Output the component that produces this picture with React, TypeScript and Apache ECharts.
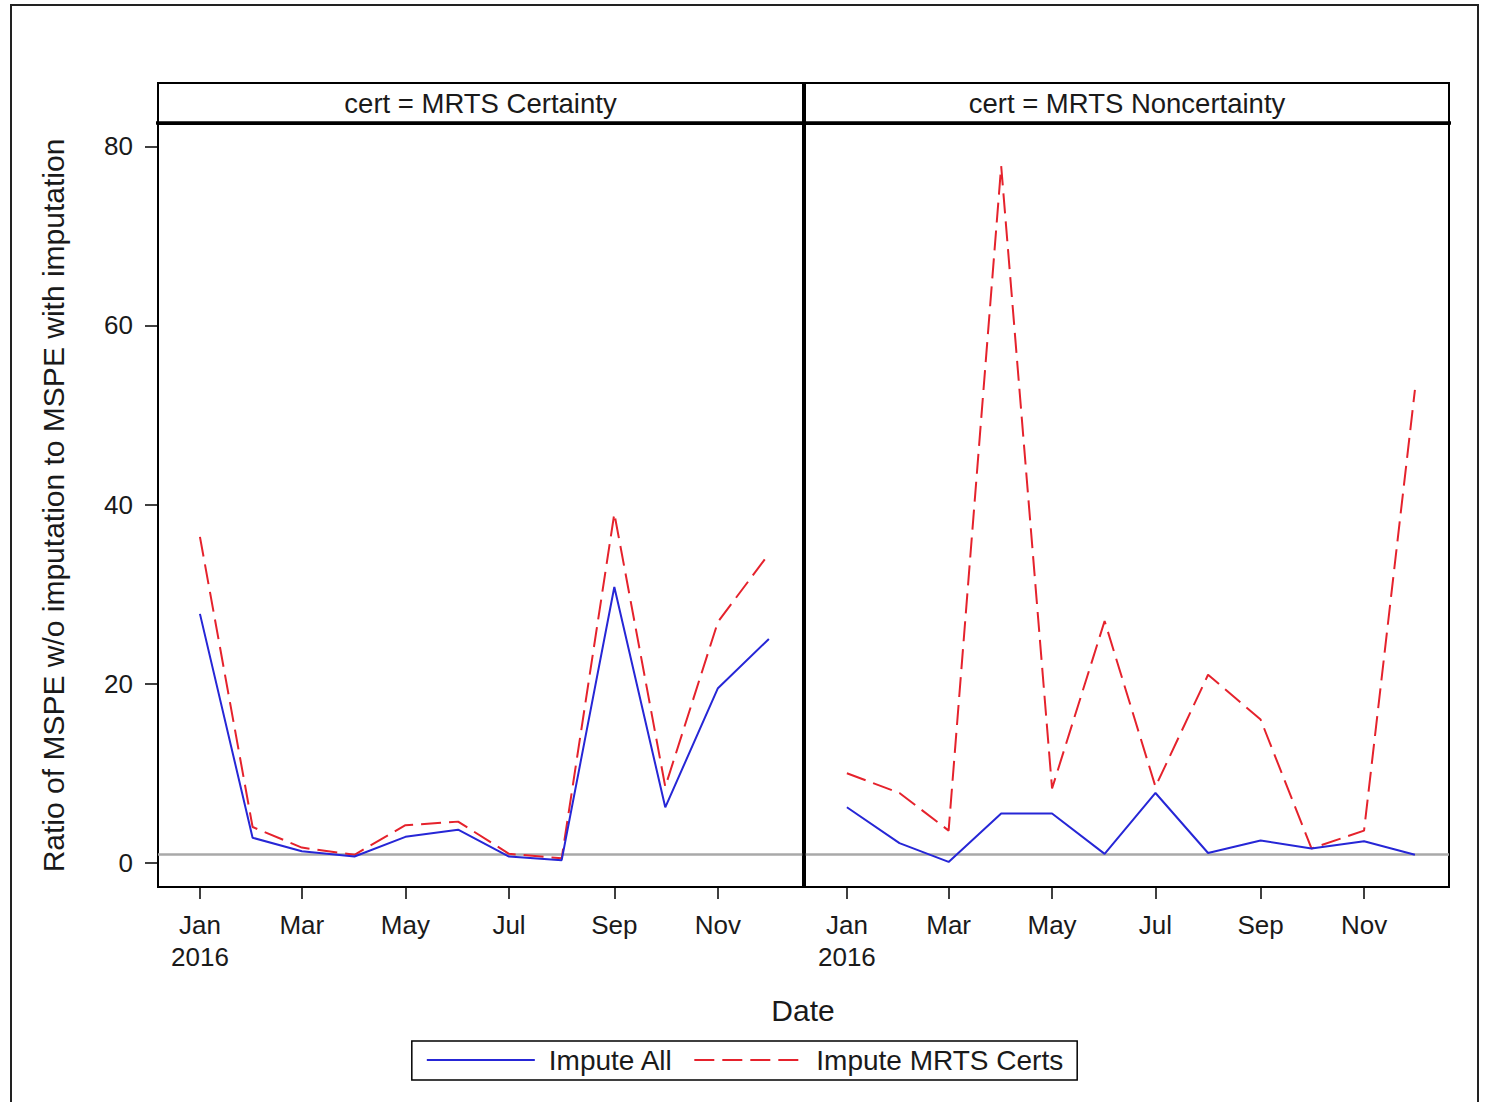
import React, { useEffect, useRef } from "react";
import * as echarts from "echarts";

const months = ["Jan", "Feb", "Mar", "Apr", "May", "Jun", "Jul", "Aug", "Sep", "Oct", "Nov", "Dec"];
const year = 2016;
const panels = ["cert = MRTS Certainty", "cert = MRTS Noncertainty"];
const seriesNames = ["Impute All", "Impute MRTS Certs"];

const certImputeAll = [27.8, 2.8, 1.3, 0.7, 2.9, 3.7, 0.7, 0.3, 30.8, 6.2, 19.5, 25.0];
const certImputeCerts = [36.4, 4.0, 1.7, 0.9, 4.2, 4.6, 1.0, 0.5, 39.0, 8.5, 26.9, 34.5];
const noncertImputeAll = [6.2, 2.2, 0.1, 5.5, 5.5, 1.0, 7.8, 1.1, 2.5, 1.6, 2.4, 0.9];
const noncertImputeCerts = [10.0, 7.8, 3.6, 77.8, 8.3, 27.0, 8.5, 21.0, 16.0, 1.6, 3.6, 52.8];

const yTicks = [0, 20, 40, 60, 80];
const xTickMonths = [0, 2, 4, 6, 8, 10];
const referenceValue = 1;

const FONT = "'Liberation Sans', Arial, sans-serif";
const TEXT = "#1a1a1a";
const BLUE = "#2626d6";
const RED = "#e5222c";

const dayOfYear = (m: number) =>
  Math.round((Date.UTC(year, m, 1) - Date.UTC(year, 0, 1)) / 86400000);

const xTickValues = xTickMonths.map(dayOfYear);
const xLabel = (v: number) => {
  const i = xTickValues.indexOf(Math.round(v));
  if (i < 0) return "";
  const m = xTickMonths[i];
  return m === 0 ? `${months[m]}\n${year}` : months[m];
};

const toPoints = (vals: number[]) => vals.map((v, i) => [dayOfYear(i), v]);

export default function App() {
  const ref = useRef<HTMLDivElement>(null);
  useEffect(() => {
    if (!ref.current) return;
    const chart = echarts.init(ref.current, undefined, { renderer: "svg" });

    const grids = [
      { left: 158, top: 124, width: 645, height: 763 },
      { left: 805, top: 124, width: 644, height: 763 },
    ];

    const xAxes = grids.map((_, gi) => ({
      type: "value",
      gridIndex: gi,
      position: "bottom",
      min: -24.7,
      max: 355.1,
      splitLine: { show: false },
      axisLine: { show: false, onZero: false },
      axisTick: {
        show: true,
        inside: false,
        customValues: xTickValues,
        length: 12,
        lineStyle: { color: "#000", width: 1.5 },
      },
      axisLabel: {
        customValues: xTickValues,
        formatter: xLabel,
        fontFamily: FONT,
        fontSize: 26,
        lineHeight: 32,
        color: TEXT,
        margin: 22,
      },
    }));

    const yAxes = grids.map((_, gi) => ({
      type: "value",
      gridIndex: gi,
      position: "left",
      min: -2.7,
      max: 82.5,
      splitLine: { show: false },
      axisLine: { show: false, onZero: false },
      name: gi === 0 ? "Ratio of MSPE w/o imputation to MSPE with imputation" : "",
      nameLocation: "middle",
      nameGap: 90,
      nameRotate: 90,
      nameTextStyle: { fontFamily: FONT, fontSize: 30, color: TEXT },
      axisTick: {
        show: gi === 0,
        inside: false,
        customValues: yTicks,
        length: 13,
        lineStyle: { color: "#000", width: 1.5 },
      },
      axisLabel: {
        show: gi === 0,
        customValues: yTicks,
        fontFamily: FONT,
        fontSize: 26,
        color: TEXT,
        margin: 25,
      },
    }));

    const panelData = [
      [certImputeAll, certImputeCerts],
      [noncertImputeAll, noncertImputeCerts],
    ];

    const series: any[] = [];
    panelData.forEach((pair, gi) => {
      pair.forEach((vals, si) => {
        series.push({
          type: "line",
          name: seriesNames[si],
          xAxisIndex: gi,
          yAxisIndex: gi,
          data: toPoints(vals),
          symbol: "none",
          z: si === 0 ? 4 : 3,
          lineStyle: {
            color: si === 0 ? BLUE : RED,
            width: 2,
            type: si === 0 ? "solid" : [20, 8],
          },
          itemStyle: { color: si === 0 ? BLUE : RED },
          markLine:
            si === 0
              ? {
                  silent: true,
                  symbol: "none",
                  label: { show: false },
                  lineStyle: { color: "#a9a9a9", width: 2.5, type: "solid" },
                  data: [{ yAxis: referenceValue }],
                  z: 1,
                }
              : undefined,
        });
      });
    });

    const headerGraphics: any[] = [];
    grids.forEach((g, gi) => {
      headerGraphics.push({
        type: "rect",
        shape: { x: g.left, y: 83, width: g.width, height: 40 },
        style: { fill: "#fff", stroke: "#000", lineWidth: 2 },
        z: 10,
      });
      headerGraphics.push({
        type: "text",
        x: g.left + g.width / 2,
        y: 103,
        style: {
          text: panels[gi],
          fontFamily: FONT,
          fontSize: 27.5,
          fill: TEXT,
          align: "center",
          verticalAlign: "middle",
        },
        z: 11,
      });
    });

    chart.setOption({
      animation: false,
      backgroundColor: "#fff",
      grid: grids.map((g) => ({
        ...g,
        show: true,
        borderColor: "#000",
        borderWidth: 2,
        backgroundColor: "transparent",
      })),
      xAxis: xAxes,
      yAxis: yAxes,
      legend: {
        data: seriesNames,
        left: "center",
        top: 1041,
        itemWidth: 108,
        itemHeight: 14,
        itemGap: 20,
        padding: [5, 14, 6, 14],
        borderColor: "#000",
        borderWidth: 1.5,
        itemStyle: { opacity: 0 },
        textStyle: {
          fontFamily: FONT,
          fontSize: 28,
          color: TEXT,
          padding: [0, 0, 0, 9],
        },
      },
      graphic: [
        {
          type: "rect",
          shape: { x: 11, y: 5, width: 1467, height: 1110 },
          style: { fill: "none", stroke: "#222", lineWidth: 2 },
          z: 0,
          silent: true,
        },
        ...headerGraphics,
        {
          type: "line",
          shape: { x1: 156, y1: 123, x2: 1451, y2: 123 },
          style: { stroke: "#000", lineWidth: 3.5 },
          z: 12,
        },
        {
          type: "line",
          shape: { x1: 804, y1: 83, x2: 804, y2: 888 },
          style: { stroke: "#000", lineWidth: 3.5 },
          z: 12,
        },
        {
          type: "text",
          x: 803,
          y: 1010,
          style: {
            text: "Date",
            fontFamily: FONT,
            fontSize: 30,
            fill: TEXT,
            align: "center",
            verticalAlign: "middle",
          },
        },
      ],
      series,
    });

    return () => chart.dispose();
  }, []);

  return (
    <div
      ref={ref}
      style={{ position: "absolute", left: 0, top: 0, width: 1489, height: 1102 }}
    />
  );
}
